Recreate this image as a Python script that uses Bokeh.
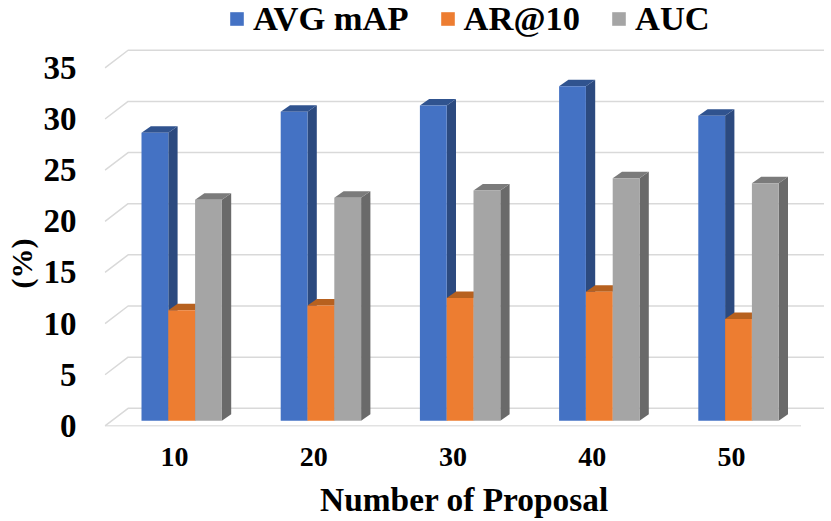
from bokeh.plotting import figure
from bokeh.models import Range1d, Legend, LegendItem, FixedTicker, Title
from bokeh.embed import file_html
from bokeh.resources import INLINE

proposals = ["10", "20", "30", "40", "50"]
series_names = ["AVG mAP", "AR@10", "AUC"]
avg_map = [28.15, 30.2, 30.8, 32.7, 29.8]
ar_10 = [10.8, 11.27, 12.0, 12.6, 9.94]
auc = [21.6, 21.8, 22.5, 23.7, 23.2]
y_ticks = [0, 5, 10, 15, 20, 25, 30, 35]

front_colors = ["#4472C4", "#ED7D31", "#A5A5A5"]
side_colors = ["#2C4A7F", "#AE5A21", "#6A6A6A"]
top_colors = ["#30538F", "#B7611F", "#7B7B7B"]
grid_color = "#D9D9D9"
FONT = "Liberation Serif"

PX_X = 139.2
PX_Y = 10.23
FIG_W, FIG_H = 824, 521
LEFT, BOTTOM = 104, 95
frame_w, frame_h = FIG_W - LEFT, FIG_H - BOTTOM

x0 = -0.5 / PX_X
y0 = -0.06
p = figure(width=FIG_W, height=FIG_H, output_backend="svg", toolbar_location=None,
           x_range=Range1d(x0, x0 + frame_w / PX_X),
           y_range=Range1d(y0, y0 + frame_h / PX_Y),
           min_border_left=LEFT, min_border_right=0, min_border_top=0, min_border_bottom=BOTTOM)
p.outline_line_color = None
p.xgrid.visible = False
p.ygrid.visible = False

# walls
wall_dx, wall_dy = 23.1 / PX_X, 17.6 / PX_Y
n = len(proposals)
back_v = y_ticks
p.multi_line([[0, wall_dx, n + wall_dx] for v in back_v],
             [[v, v + wall_dy, v + wall_dy] for v in back_v],
             line_color=grid_color, line_width=1.5)
p.line([0, n], [0, 0], line_color=grid_color, line_width=1.5)

# bars
bar_off, bar_w = 36.5 / PX_X, 26.8 / PX_X
dep_x, dep_y = 9.3 / PX_X, 6.5 / PX_Y
base = 5.2 / PX_Y
renderers = []
for k, vals in enumerate([avg_map, ar_10, auc]):
    l = [i + bar_off + k * bar_w for i in range(n)]
    r = [a + bar_w for a in l]
    t = [base + v for v in vals]
    p.patches([[b, b + dep_x, b + dep_x, b] for b in r],
              [[base, base + dep_y, h + dep_y, h] for h in t],
              fill_color=side_colors[k], line_color=None)
    p.patches([[a, a + dep_x, b + dep_x, b] for a, b in zip(l, r)],
              [[h, h + dep_y, h + dep_y, h] for h in t],
              fill_color=top_colors[k], line_color=None)
    renderers.append(p.quad(left=l, right=r, bottom=[base] * n, top=t,
                            fill_color=front_colors[k], line_color=None))

# axes
p.yaxis.ticker = FixedTicker(ticks=y_ticks)
p.yaxis.axis_line_color = None
p.yaxis.major_tick_line_color = None
p.yaxis.minor_tick_line_color = None
p.yaxis.major_label_standoff = 22
p.yaxis.major_label_text_font = FONT
p.yaxis.major_label_text_font_style = "bold"
p.yaxis.major_label_text_font_size = "33px"
p.yaxis.major_label_text_color = "black"

tick_pos = [i + 0.5 for i in range(n)]
p.xaxis.ticker = FixedTicker(ticks=tick_pos)
p.xaxis.major_label_overrides = {pos: lab for pos, lab in zip(tick_pos, proposals)}
p.xaxis.axis_line_color = None
p.xaxis.major_tick_line_color = None
p.xaxis.minor_tick_line_color = None
p.xaxis.major_label_standoff = 15
p.xaxis.major_label_text_font = FONT
p.xaxis.major_label_text_font_style = "bold"
p.xaxis.major_label_text_font_size = "28px"
p.xaxis.major_label_text_color = "black"
p.xaxis.axis_label = "Number of Proposal"
p.xaxis.axis_label_standoff = 12
p.xaxis.axis_label_text_font = FONT
p.xaxis.axis_label_text_font_style = "bold"
p.xaxis.axis_label_text_font_size = "33.4px"
p.xaxis.axis_label_text_color = "black"

ylab = Title(text="(%)", align="left", offset=138, standoff=5, text_font=FONT,
             text_font_style="bold", text_font_size="30px", text_color="black")
p.add_layout(ylab, "left")

legend = Legend(items=[LegendItem(label=nm, renderers=[r]) for nm, r in zip(series_names, renderers)],
                orientation="horizontal", location=(124, frame_h - 38),
                glyph_width=17, glyph_height=17, label_standoff=8, spacing=30,
                padding=0, margin=0, border_line_color=None, background_fill_color=None,
                label_text_font=FONT, label_text_font_style="bold", label_text_font_size="34.5px",
                label_text_color="black")
p.add_layout(legend)

open("out.html", "w").write(file_html(p, INLINE))
